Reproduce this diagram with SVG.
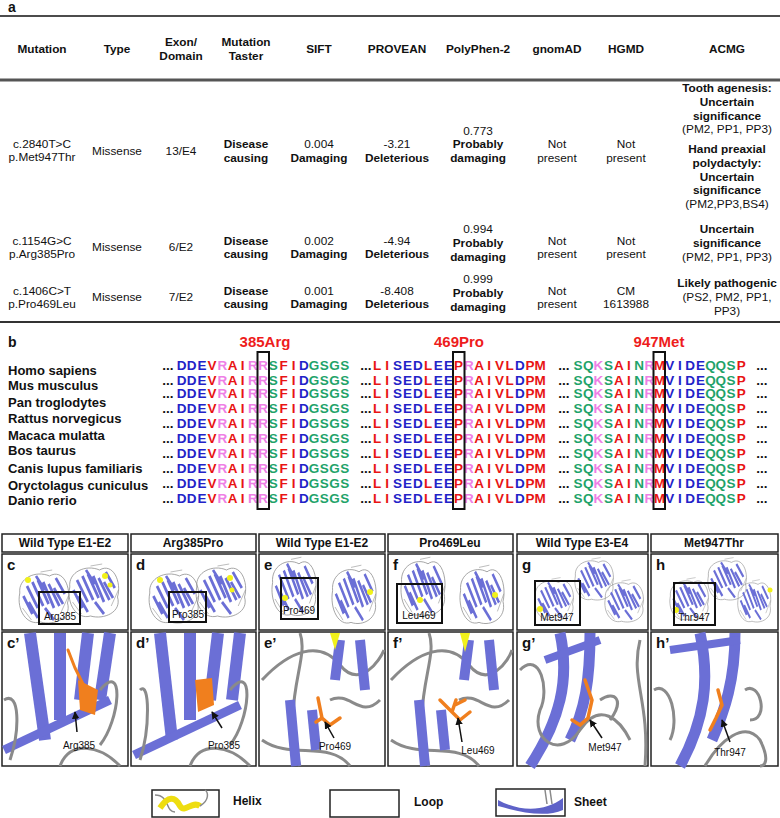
<svg xmlns="http://www.w3.org/2000/svg" width="780" height="818" viewBox="0 0 780 818">
<style>
text{font-family:"Liberation Sans",Arial,sans-serif;fill:#111}
.t{font-size:11.8px;text-anchor:middle}
.b{font-weight:bold}
.h{font-size:11.8px;text-anchor:middle;font-weight:bold}
.sp{font-size:13px;font-weight:bold}
.s{font-size:13.5px;font-weight:bold;text-anchor:middle}
.bl{fill:#2222c8}.rd{fill:#e81414}.pk{fill:#ee80e6}.gr{fill:#1fa36a}.dk{fill:#111}
.red{fill:#ee1c1c;font-size:15px;font-weight:bold;text-anchor:middle}
.lab{font-size:14px;font-weight:bold}
.ph{font-size:12px;font-weight:bold;text-anchor:middle}
.pl{font-size:10px;text-anchor:middle}
.frame{fill:#fff;stroke:#222;stroke-width:1.5}
.sel{fill:none;stroke:#111;stroke-width:2}
.sh{stroke:#6b6fd6;fill:none;stroke-linecap:butt}
.lp{stroke:#8a8a8a;fill:none}
.or{stroke:#f07f1e;fill:none;stroke-linecap:round}
.arr{stroke:#111;stroke-width:1.5;fill:none;marker-end:url(#ah)}
</style>
<defs>
<marker id="ah" viewBox="0 0 10 10" refX="9" refY="5" markerWidth="5" markerHeight="5" orient="auto"><path d="M0,0L10,5L0,10z" fill="#111"/></marker>
<g id="dom">
<path class="lp" stroke-width="0.8" d="M-28,-5C-30,-20 -10,-28 5,-22C20,-30 30,-10 25,5C30,20 10,28 -5,24C-20,28 -32,12 -28,-5"/>
<g class="sh" stroke-width="3">
<path d="M-20,-12L-8,10M-14,-16L-2,8M-8,-18L4,6M-2,-16L10,10M4,-14L16,8M10,-10L20,6M-24,-2L-14,16M-18,4L-8,20M0,10L10,22M12,-20L22,-4M-10,-22L0,-8"/>
</g>
<path class="lp" stroke-width="0.6" d="M-25,10L-15,22M18,14L26,-2M-5,-26L8,-28"/>
</g>
</defs>
<rect width="780" height="818" fill="#fff"/>

<!-- panel a -->
<text x="8" y="12" class="lab">a</text>
<g id="table">
<line x1="0" y1="16" x2="780" y2="16" stroke="#111" stroke-width="1.5"/>
<line x1="0" y1="80" x2="780" y2="80" stroke="#555" stroke-width="3"/>
<line x1="0" y1="322" x2="780" y2="322" stroke="#333" stroke-width="2"/>
<g class="h">
<text x="42" y="53">Mutation</text><text x="117" y="53">Type</text>
<text x="181" y="46">Exon/</text><text x="181" y="60">Domain</text>
<text x="246" y="46">Mutation</text><text x="246" y="60">Taster</text>
<text x="319" y="53">SIFT</text><text x="397" y="53">PROVEAN</text>
<text x="478" y="53">PolyPhen-2</text><text x="557" y="53">gnomAD</text>
<text x="626" y="53">HGMD</text><text x="727" y="53">ACMG</text>
</g>
<g class="t">
<text x="42" y="148">c.2840T&gt;C</text><text x="42" y="161">p.Met947Thr</text>
<text x="117" y="155">Missense</text><text x="181" y="155">13/E4</text>
<text x="246" y="148" class="b">Disease</text><text x="246" y="162" class="b">causing</text>
<text x="319" y="148">0.004</text><text x="319" y="162" class="b">Damaging</text>
<text x="397" y="148">-3.21</text><text x="397" y="162" class="b">Deleterious</text>
<text x="478" y="135">0.773</text><text x="478" y="148" class="b">Probably</text><text x="478" y="162" class="b">damaging</text>
<text x="557" y="148">Not</text><text x="557" y="162">present</text>
<text x="626" y="148">Not</text><text x="626" y="162">present</text>
<text x="727" y="92" class="b">Tooth agenesis:</text><text x="727" y="106" class="b">Uncertain</text>
<text x="727" y="120" class="b">significance</text><text x="727" y="133">(PM2, PP1, PP3)</text>
<text x="727" y="153" class="b">Hand preaxial</text><text x="727" y="167" class="b">polydactyly:</text>
<text x="727" y="181" class="b">Uncertain</text><text x="727" y="194" class="b">significance</text><text x="727" y="208">(PM2,PP3,BS4)</text>

<text x="42" y="245">c.1154G&gt;C</text><text x="42" y="258">p.Arg385Pro</text>
<text x="117" y="251">Missense</text><text x="181" y="251">6/E2</text>
<text x="246" y="245" class="b">Disease</text><text x="246" y="258" class="b">causing</text>
<text x="319" y="245">0.002</text><text x="319" y="258" class="b">Damaging</text>
<text x="397" y="245">-4.94</text><text x="397" y="258" class="b">Deleterious</text>
<text x="478" y="233">0.994</text><text x="478" y="247" class="b">Probably</text><text x="478" y="261" class="b">damaging</text>
<text x="557" y="245">Not</text><text x="557" y="258">present</text>
<text x="626" y="245">Not</text><text x="626" y="258">present</text>
<text x="727" y="233" class="b">Uncertain</text><text x="727" y="247" class="b">significance</text><text x="727" y="261">(PM2, PP1, PP3)</text>

<text x="42" y="295">c.1406C&gt;T</text><text x="42" y="308">p.Pro469Leu</text>
<text x="117" y="301">Missense</text><text x="181" y="301">7/E2</text>
<text x="246" y="295" class="b">Disease</text><text x="246" y="308" class="b">causing</text>
<text x="319" y="295">0.001</text><text x="319" y="308" class="b">Damaging</text>
<text x="397" y="295">-8.408</text><text x="397" y="308" class="b">Deleterious</text>
<text x="478" y="283">0.999</text><text x="478" y="297" class="b">Probably</text><text x="478" y="311" class="b">damaging</text>
<text x="557" y="295">Not</text><text x="557" y="308">present</text>
<text x="626" y="295">CM</text><text x="626" y="308">1613988</text>
<text x="727" y="287" class="b">Likely pathogenic</text><text x="727" y="301">(PS2, PM2, PP1,</text><text x="727" y="315">PP3)</text>
</g>
</g>

<!-- panel b -->
<text x="8" y="347" class="lab">b</text>
<text x="265" y="347" class="red">385Arg</text>
<text x="459" y="347" class="red">469Pro</text>
<text x="659" y="347" class="red">947Met</text>
<g id="species" class="sp">
<text x="8" y="375">Homo sapiens</text><text x="8" y="390">Mus musculus</text>
<text x="8" y="407">Pan troglodytes</text><text x="8" y="423">Rattus norvegicus</text>
<text x="8" y="440">Macaca mulatta</text><text x="8" y="455">Bos taurus</text>
<text x="8" y="473">Canis lupus familiaris</text><text x="8" y="490">Oryctolagus cuniculus</text>
<text x="8" y="505">Danio rerio</text>
</g>
<defs>
<g id="seq" class="s">
<text x="168" class="dk">...</text>
<text x="181.5" class="bl">D</text><text x="191.7" class="bl">D</text><text x="201.9" class="bl">E</text><text x="212.1" class="rd">V</text><text x="222.3" class="pk">R</text><text x="232.5" class="rd">A</text><text x="242.7" class="rd">I</text><text x="252.9" class="pk">R</text><text x="263.1" class="pk">R</text><text x="273.3" class="gr">S</text><text x="283.5" class="rd">F</text><text x="293.7" class="rd">I</text><text x="303.9" class="bl">D</text><text x="314.1" class="gr">G</text><text x="324.3" class="gr">S</text><text x="334.5" class="gr">G</text><text x="344.7" class="gr">S</text>
<text x="366" class="dk">...</text>
<text x="377" class="rd">L</text><text x="387.2" class="rd">I</text><text x="397.4" class="bl">S</text><text x="407.6" class="bl">E</text><text x="417.8" class="bl">D</text><text x="428" class="rd">L</text><text x="438.2" class="bl">E</text><text x="448.4" class="bl">E</text><text x="458.6" class="rd">P</text><text x="468.8" class="pk">R</text><text x="479" class="rd">A</text><text x="489.2" class="rd">I</text><text x="499.4" class="rd">V</text><text x="509.6" class="rd">L</text><text x="519.8" class="bl">D</text><text x="530" class="rd">P</text><text x="540.2" class="rd">M</text>
<text x="564" class="dk">...</text>
<text x="578" class="gr">S</text><text x="588.2" class="gr">Q</text><text x="598.4" class="pk">K</text><text x="608.6" class="gr">S</text><text x="618.8" class="rd">A</text><text x="629" class="rd">I</text><text x="639.2" class="gr">N</text><text x="649.4" class="pk">R</text><text x="659.6" class="rd">M</text><text x="669.8" class="bl">V</text><text x="680" class="bl">I</text><text x="690.2" class="bl">D</text><text x="700.4" class="bl">E</text><text x="710.6" class="gr">Q</text><text x="720.8" class="gr">Q</text><text x="731" class="gr">S</text><text x="741.2" class="rd">P</text>
<text x="762" class="dk">...</text>
</g>
</defs>
<g id="alignment">
<use href="#seq" y="370"/><use href="#seq" y="385"/><use href="#seq" y="398"/><use href="#seq" y="413"/><use href="#seq" y="428"/>
<use href="#seq" y="443"/><use href="#seq" y="458"/><use href="#seq" y="473"/><use href="#seq" y="488"/><use href="#seq" y="503"/>
<rect x="257.5" y="352" width="11.5" height="157" class="sel" stroke-width="1.3"/>
<rect x="453" y="352" width="11.5" height="157" class="sel" stroke-width="1.3"/>
<rect x="653.5" y="352" width="11.5" height="157" class="sel" stroke-width="1.3"/>
</g>

<!-- panels c-h -->
<g id="headers">
<rect x="2" y="534" width="126" height="18" class="frame"/><text x="65" y="547" class="ph">Wild Type  E1-E2</text>
<rect x="131" y="534" width="125" height="18" class="frame"/><text x="193" y="547" class="ph">Arg385Pro</text>
<rect x="259" y="534" width="126" height="18" class="frame"/><text x="322" y="547" class="ph">Wild Type  E1-E2</text>
<rect x="388" y="534" width="125" height="18" class="frame"/><text x="450" y="547" class="ph">Pro469Leu</text>
<rect x="517" y="534" width="131" height="18" class="frame"/><text x="582" y="547" class="ph">Wild Type  E3-E4</text>
<rect x="651" y="534" width="127" height="18" class="frame"/><text x="714" y="547" class="ph">Met947Thr</text>
</g>
<g id="overview">
<rect x="2" y="554" width="126" height="76" class="frame"/>
<rect x="131" y="554" width="125" height="76" class="frame"/>
<rect x="259" y="554" width="126" height="76" class="frame"/>
<rect x="388" y="554" width="125" height="76" class="frame"/>
<rect x="517" y="554" width="131" height="76" class="frame"/>
<rect x="651" y="554" width="127" height="76" class="frame"/>
<use href="#dom" transform="translate(45,598) scale(0.9,1)"/><use href="#dom" transform="translate(95,592) scale(0.9,1)"/>
<use href="#dom" transform="translate(175,598) scale(0.9,1)"/><use href="#dom" transform="translate(222,592) scale(0.9,1)"/>
<use href="#dom" transform="translate(295,588) scale(0.8,1.1)"/><use href="#dom" transform="translate(355,596) scale(0.8,1.1)"/>
<use href="#dom" transform="translate(424,588) scale(0.8,1.1)"/><use href="#dom" transform="translate(483,596) scale(0.8,1.1)"/>
<use href="#dom" transform="translate(555,600) scale(0.7,0.8)"/><use href="#dom" transform="translate(595,580) scale(0.7,0.8)"/><use href="#dom" transform="translate(625,602) scale(0.7,0.8)"/>
<use href="#dom" transform="translate(690,600) scale(0.7,0.8)"/><use href="#dom" transform="translate(728,580) scale(0.7,0.8)"/><use href="#dom" transform="translate(755,602) scale(0.6,0.8)"/>
<g fill="#f2f21a"><circle cx="28" cy="580" r="3"/><circle cx="105" cy="576" r="3"/><circle cx="110" cy="585" r="2.5"/><circle cx="160" cy="580" r="3"/><circle cx="230" cy="578" r="3"/><circle cx="232" cy="590" r="2.5"/><circle cx="285" cy="598" r="3"/><circle cx="370" cy="592" r="3"/><circle cx="420" cy="600" r="3"/><circle cx="495" cy="595" r="3"/><circle cx="540" cy="609" r="3"/><circle cx="676" cy="610" r="3"/><circle cx="770" cy="590" r="2.5"/></g>
<rect x="39" y="592" width="41" height="32" class="sel"/><rect x="169" y="592" width="37" height="30" class="sel"/>
<rect x="281" y="578" width="37" height="41" class="sel"/><rect x="397" y="584" width="45" height="39" class="sel"/>
<rect x="535" y="581" width="45" height="44" class="sel"/><rect x="674" y="583" width="41" height="42" class="sel"/>
<g class="pl"><text x="60" y="620">Arg385</text><text x="188" y="618">Pro385</text><text x="299" y="614">Pro469</text><text x="419" y="619">Leu469</text><text x="557" y="621">Met947</text><text x="694" y="621">Thr947</text></g>
<g class="ph" style="font-size:15px;text-anchor:start"><text x="7" y="570">c</text><text x="136" y="570">d</text><text x="264" y="570">e</text><text x="393" y="570">f</text><text x="522" y="570">g</text><text x="656" y="570">h</text></g>
</g>

<g id="closeups">
<rect x="2" y="632" width="126" height="134" class="frame"/>
<rect x="131" y="632" width="125" height="134" class="frame"/>
<rect x="259" y="632" width="126" height="134" class="frame"/>
<rect x="388" y="632" width="125" height="134" class="frame"/>
<rect x="517" y="632" width="131" height="134" class="frame"/>
<rect x="651" y="632" width="127" height="134" class="frame"/>
<!-- c' -->
<g class="sh" stroke-width="12"><path d="M30,633L45,740"/><path d="M60,633L60,720"/><path d="M88,633L80,700"/><path d="M110,633L100,700"/><path d="M4,750L110,700" stroke-width="9"/></g>
<path class="lp" stroke-width="3" d="M100,690C125,660 120,720 100,745M60,766C70,740 100,745 120,766M4,700C20,690 20,730 10,760"/>
<path class="or" stroke-width="3" d="M68,650L75,668L85,688"/><path d="M78,680L98,690L95,715L80,710z" fill="#f07f1e"/>
<path class="arr" d="M77,732L75,712"/><text x="79" y="749" class="pl">Arg385</text>
<!-- d' -->
<g class="sh" stroke-width="12"><path d="M160,633L172,740"/><path d="M190,633L190,720"/><path d="M218,633L210,700"/><path d="M240,633L232,700"/><path d="M134,755L240,705" stroke-width="9"/></g>
<path class="lp" stroke-width="3" d="M230,690C255,660 250,720 230,745M190,766C200,740 230,745 250,766M140,690C150,680 150,730 140,760"/>
<path d="M195,680L212,678L214,705L198,712z" fill="#f07f1e"/>
<path class="arr" d="M222,728L212,712"/><text x="224" y="749" class="pl">Pro385</text>
<!-- e' -->
<path class="lp" stroke-width="3" d="M262,680C290,650 320,640 340,665C360,690 380,660 384,650M300,633C310,660 280,700 300,766M330,700C350,690 360,720 380,700M262,740C290,760 330,740 350,766"/>
<g class="sh" stroke-width="10"><path d="M290,700L296,766"/><path d="M312,710L316,750"/><path d="M340,640L335,680"/><path d="M360,640L365,690"/></g>
<path d="M330,633L340,633L335,650z" fill="#f2f21a"/>
<path class="or" stroke-width="3.5" d="M318,698L322,718L330,725L340,718M322,718L316,722"/>
<path class="arr" d="M334,738L325,722"/><text x="335" y="750" class="pl">Pro469</text>
<!-- f' -->
<path class="lp" stroke-width="3" d="M391,680C419,650 449,640 469,665C489,690 509,660 512,650M429,633C439,660 409,700 429,766M459,700C479,690 489,720 509,700M391,740C419,760 459,740 479,766"/>
<g class="sh" stroke-width="10"><path d="M419,700L425,766"/><path d="M441,710L445,750"/><path d="M469,640L464,680"/><path d="M489,640L494,690"/></g>
<path d="M460,633L470,633L465,652z" fill="#f2f21a"/>
<path class="or" stroke-width="3.5" d="M440,700L452,712L460,720L470,712M452,712L456,700M455,705L465,700"/>
<path class="arr" d="M462,742L458,718"/><text x="478" y="754" class="pl">Leu469</text>
<!-- g' -->
<g class="sh" stroke-width="11"><path d="M560,633C570,680 560,720 530,766"/><path d="M590,633C590,680 585,710 570,740"/><path d="M545,660L600,640" stroke-width="8"/></g>
<path class="lp" stroke-width="3" d="M520,670C540,650 550,690 540,710C530,740 560,760 580,730C600,700 620,720 630,740M640,640C630,680 650,700 645,766M600,700C615,690 625,700 610,720"/>
<path class="or" stroke-width="3.5" d="M585,680L592,700L588,718L580,725L572,720"/>
<path class="arr" d="M602,738L590,720"/><text x="605" y="751" class="pl">Met947</text>
<!-- h' -->
<g class="sh" stroke-width="11"><path d="M700,633C710,680 705,720 680,766"/><path d="M735,633C735,680 725,710 712,740"/><path d="M670,650L740,640" stroke-width="8"/></g>
<path class="lp" stroke-width="3" d="M654,690C670,680 680,720 670,740M705,766C720,740 745,720 760,740C770,760 765,766 760,766M745,690C760,680 770,720 750,720"/>
<path class="or" stroke-width="3.5" d="M718,690L722,705L716,718L710,730"/>
<path class="arr" d="M730,742L722,720"/><text x="730" y="756" class="pl">Thr947</text>
<g class="ph" style="font-size:15px;text-anchor:start"><text x="7" y="648">c’</text><text x="136" y="648">d’</text><text x="264" y="648">e’</text><text x="393" y="648">f’</text><text x="522" y="648">g’</text><text x="656" y="648">h’</text></g>
</g>

<g id="legend">
<rect x="152" y="790" width="67" height="27" class="frame" stroke-width="1.2"/>
<path d="M155,795C170,795 165,812 175,812" class="lp" stroke-width="1.5"/>
<path d="M160,808C168,796 175,796 180,806C185,814 192,800 200,806" stroke="#eedd10" stroke-width="6" fill="none"/>
<path d="M200,806C210,800 208,792 205,790" class="lp" stroke-width="1.5"/>
<text x="233" y="805" class="lab" style="font-size:12px">Helix</text>
<rect x="330" y="790" width="69" height="27" class="frame" stroke-width="1.2"/>
<text x="414" y="806" class="lab" style="font-size:12px">Loop</text>
<rect x="496" y="789" width="69" height="27" class="frame" stroke-width="1.2"/>
<path d="M498,800C520,812 545,812 563,798L563,810C545,818 520,812 498,806z" fill="#5e62c8"/>
<path d="M545,790L547,804M550,790L552,804" class="lp" stroke-width="1.5"/>
<text x="574" y="806" class="lab" style="font-size:12px">Sheet</text>
</g>
</svg>
